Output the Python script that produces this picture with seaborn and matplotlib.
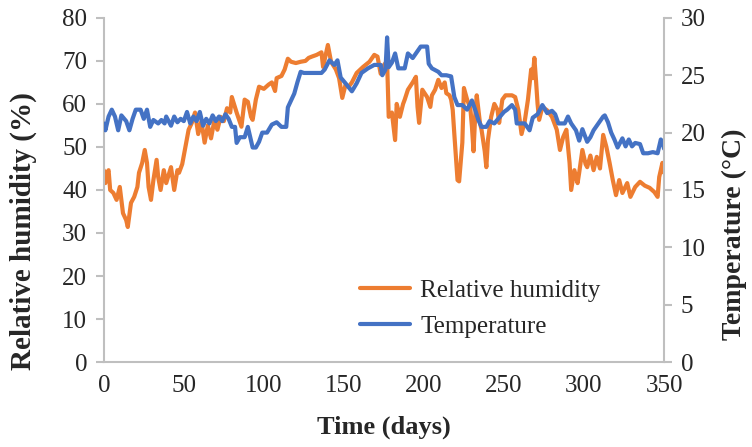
import pandas as pd
import matplotlib.pyplot as plt
import seaborn as sns

# relative humidity (%)
rh_days = [0, 1, 2, 3, 4, 6, 8, 10, 12, 14, 15, 17, 19, 21, 22, 24, 25.6, 27, 28, 29.5,
           31, 33, 34, 35.5, 37.5, 39, 42, 44, 46, 47, 49, 51, 53, 55, 57, 59, 61, 63, 65, 67,
           69, 71, 73, 75, 77, 79, 80, 83, 86, 88, 90, 92, 93, 95, 97, 100, 103, 105, 107, 108,
           111, 113, 115, 117, 120, 123, 126, 128, 130, 133, 136, 137, 140, 142, 145, 147, 149, 151, 153, 155,
           158, 162, 166, 169, 171, 173, 175, 177, 178, 180, 182, 183, 185, 187, 188, 190, 193, 195, 196, 197,
           199, 202, 204, 205, 207, 209, 211, 213, 214, 216, 217, 218, 219, 221, 222, 224, 225, 227, 229, 230,
           231, 232, 233, 235, 236, 238, 239, 240, 242, 244, 246, 247, 249, 251, 253, 255, 257, 259, 261, 263,
           265, 267, 268, 269, 270, 271, 272, 274, 277, 280, 283, 285, 287, 289, 291, 292, 294, 296, 297, 299,
           301, 302, 304, 306, 308, 310, 312, 314, 316, 318, 320, 322, 324, 327, 329, 332, 335, 338, 341, 344,
           346, 347, 349, 350]
rh = [44.6, 41.6, 44, 44.6, 40, 39.3, 37.7, 40.7, 34.6, 33, 31.4, 37, 38.4, 40.7, 44, 46.3, 49.3, 46.3, 40.7, 37.7,
      42.3, 47, 43, 40, 44.6, 41.6, 45.3, 40, 44.6, 44, 46, 50, 54, 55.6, 58, 53, 56, 51, 55, 52,
      56, 54, 57, 56, 59, 58, 61.6, 58, 54.7, 61, 60.5, 57, 56.3, 61, 64, 63.5, 64.5, 65, 63, 66,
      66.5, 68, 70.5, 69.8, 69.5, 69.8, 70, 70.7, 71, 71.4, 72, 68.6, 73.7, 69.8, 68, 66, 61.4, 64.4, 64, 65,
      67.2, 68.6, 69.8, 71.4, 71, 67, 69, 70, 57, 58, 51.6, 60, 57, 60, 61, 63.3, 65, 66.3, 59.3, 55.6,
      63.3, 61.6, 59.3, 62, 63.3, 65.6, 63.7, 65, 62.5, 62, 61, 58.6, 53, 42.3, 42, 51, 63.7, 61, 59, 54.7,
      49, 57, 62, 55.6, 54, 49, 45.3, 51.6, 57, 60, 58.6, 55.6, 61, 62, 62, 62, 61.6, 58.6, 53, 56,
      61, 68, 66, 70.7, 65.6, 60, 56.3, 59.3, 58.5, 57, 54, 49.3, 52.3, 54, 46.3, 40, 44.6, 41.6, 44, 49.3,
      46, 45.3, 48, 44.6, 47.7, 45, 52.8, 50, 46.3, 42.3, 38.8, 42.3, 39.3, 41.6, 38.4, 40.7, 41.9, 41, 40.5, 39.5,
      38.4, 43, 46.3, 44]

# temperature (°C)
t_days = [0, 1, 3, 5, 7, 9, 11, 14, 16, 18, 20, 23, 25, 27, 29, 31, 34, 36, 38, 39,
          42, 44, 46, 48, 50, 52, 54, 56, 58, 60, 62, 64, 66, 68, 70, 72, 74, 76, 78, 80,
          82, 83, 85, 88, 90, 93, 95, 97, 99, 102, 105, 108, 111, 114, 115, 117, 119, 121, 123, 125,
          130, 136, 138, 141, 144, 146, 148, 151, 155, 158, 161, 165, 169, 173, 174, 176, 177, 178, 180, 182,
          184, 188, 190, 193, 195, 198, 202, 203, 205, 209, 211, 214, 217, 219, 221, 224, 227, 230, 232, 234,
          236, 239, 241, 244, 247, 250, 252, 255, 257, 258, 260, 263, 266, 268, 271, 274, 277, 280, 282, 284,
          288, 290, 292, 295, 297, 299, 302, 304, 306, 309, 312, 313, 315, 317, 319, 321, 324, 326, 328, 330,
          332, 335, 337, 340, 343, 346, 348, 349, 350]
temp = [20.8, 20.2, 21.4, 22, 21.4, 20.2, 21.5, 21, 20.2, 21.2, 22, 22, 21.2, 22, 20.5, 21.1, 20.8, 21.1, 20.8, 21.4,
        20.6, 21.4, 20.9, 21.2, 21, 21.8, 20.8, 21.4, 21, 21.8, 20.6, 21.2, 20.8, 21.5, 21, 21.4, 21, 21.6, 21.2, 20.5,
        20.5, 19.1, 19.6, 19.6, 20.5, 18.7, 18.7, 19.2, 20, 20, 20.7, 20.9, 20.5, 20.5, 22.2, 22.8, 23.4, 24.4, 25.3, 25.2,
        25.2, 25.2, 25.5, 26.3, 25.9, 26.3, 24.8, 24.3, 23.6, 24.3, 25.2, 25.6, 25.9, 25.9, 25, 25.5, 28.3, 25.7, 26.1, 26.9,
        25.6, 25.6, 26.9, 26.5, 26.9, 27.5, 27.5, 26, 25.6, 25.3, 25, 25, 24.9, 23.1, 22.4, 22.4, 22, 22.8, 22, 21.1,
        20.5, 20.5, 21, 20.8, 21.3, 21.8, 22, 22.4, 22, 20.8, 20.8, 20.8, 20.2, 21.3, 21.6, 22.4, 21.7, 21.9, 21.6, 20.8,
        20.8, 21.4, 20.8, 20.2, 19.3, 20.3, 19.2, 19.6, 20.2, 20.8, 21.4, 21.5, 20.9, 20, 19.4, 18.7, 19.5, 18.8, 19.4, 18.8,
        19.1, 19, 18.2, 18.2, 18.3, 18.2, 19.4, 19.2, 18.6]

df_rh = pd.DataFrame({"day": rh_days, "rh": rh})
df_t = pd.DataFrame({"day": t_days, "temp": temp})

sns.set_style("white")
plt.rcParams['font.family'] = ['Liberation Serif', 'DejaVu Serif']

fig = plt.figure(figsize=(7.52, 4.47), dpi=100)
ax1 = fig.add_axes([0.138, 0.19, 0.745, 0.77])
ax2 = ax1.twinx()

sns.lineplot(data=df_rh, x="day", y="rh", ax=ax1, color="#ED7D31", linewidth=3, label="Relative humidity", legend=False)
sns.lineplot(data=df_t, x="day", y="temp", ax=ax2, color="#4472C4", linewidth=3, label="Temperature", legend=False)

ax1.set_xlim(0, 350)
ax1.set_ylim(0, 80)
ax2.set_ylim(0, 30)
ax1.set_xticks(range(0, 351, 50))
ax1.set_yticks(range(0, 81, 10))
ax2.set_yticks(range(0, 31, 5))

ax1.set_xlabel("Time (days)", fontsize=19, fontweight="bold", labelpad=14)
ax1.set_ylabel("Relative humidity (%)", fontsize=21, fontweight="bold")
ax2.set_ylabel("Temperature (°C)", fontsize=20, fontweight="bold")
ax1.yaxis.set_label_coords(-0.12, 0.38)
ax2.yaxis.set_label_coords(1.104, 0.37)

for ax in (ax1, ax2):
    for s in ax.spines.values():
        s.set_color("#BFBFBF")
        s.set_linewidth(1.5)
    ax.spines["top"].set_visible(False)
    ax.tick_params(labelsize=18, color="#BFBFBF", width=1.5, length=6, pad=4)
    ax.grid(False)
ax1.spines["right"].set_visible(False)
ax2.spines["left"].set_visible(False)
ax2.spines["bottom"].set_visible(False)
ax1.tick_params(axis="x", direction="inout", length=10)
ax1.tick_params(axis="y", left=True, direction="out", pad=6)
ax2.tick_params(axis="y", right=True, direction="out", pad=6)

h1, l1 = ax1.get_legend_handles_labels()
h2, l2 = ax2.get_legend_handles_labels()
ax1.legend(h1 + h2, l1 + l2, loc="upper left", bbox_to_anchor=(0.44, 0.27), frameon=False,
           fontsize=18, handlelength=2.0, handletextpad=0.4, labelspacing=0.55, borderaxespad=0)

fig.savefig("out.png", dpi=100)
